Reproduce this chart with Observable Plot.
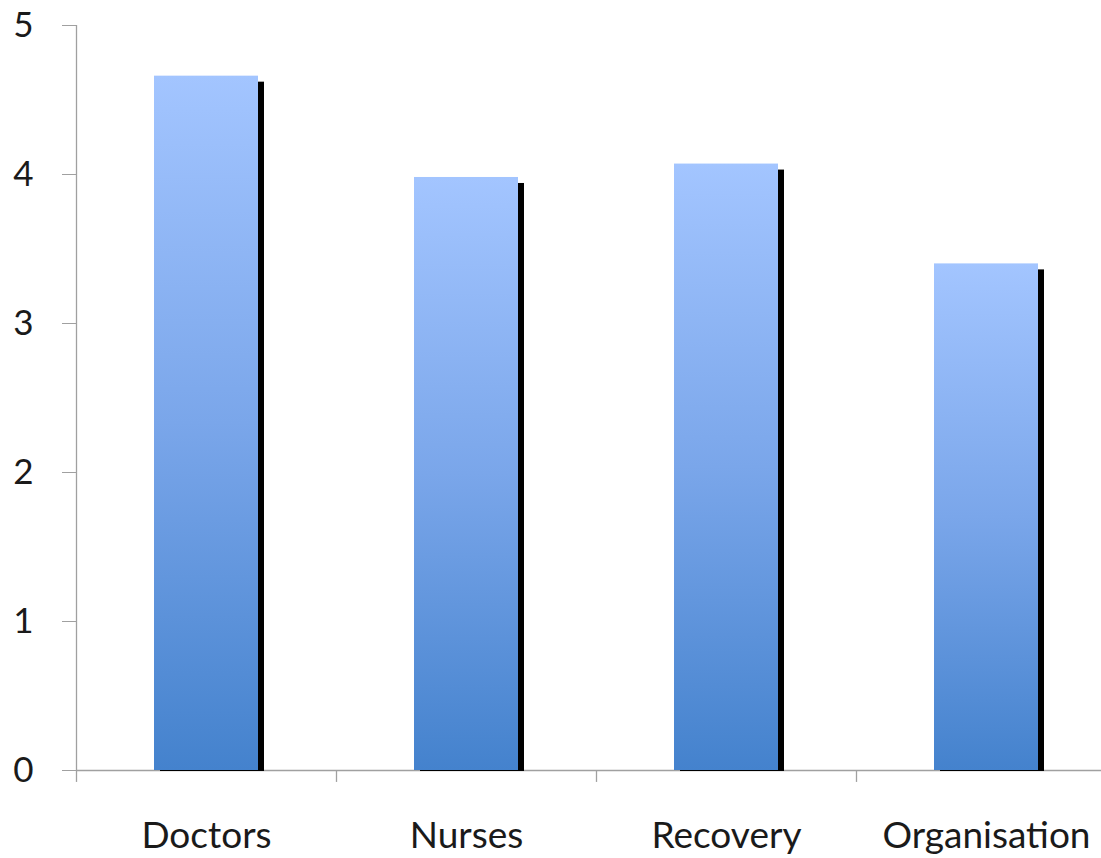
<!DOCTYPE html>
<html>
<head>
<meta charset="utf-8">
<script src="https://cdn.jsdelivr.net/npm/d3@7"></script>
<script src="https://cdn.jsdelivr.net/npm/@observablehq/plot@0.6"></script>
<style>
  html, body { margin: 0; padding: 0; background: #fff; overflow: hidden; }
  #chart svg { display: block; overflow: visible; }
</style>
</head>
<body>
<div id="chart"></div>
<script>
// Average score per area
const categories = ["Doctors", "Nurses", "Recovery", "Organisation"];
const scores = [4.66, 3.98, 4.07, 3.40];
const yTicks = [0, 1, 2, 3, 4, 5];

const data = categories.map((c, i) => ({category: c, score: scores[i]}));

const width = 1101, height = 858;
const xRange = [76, 1116];
const step = (xRange[1] - xRange[0]) / categories.length;
const font = "Lato, 'Open Sans', sans-serif";

const plot = Plot.plot({
  width, height,
  marginTop: 25, marginBottom: 88, marginLeft: 76, marginRight: 0,
  style: {fontFamily: font, fontSize: "35px", color: "#1a1a1a", background: "white"},
  x: {domain: categories, range: xRange, paddingInner: 0.6, paddingOuter: 0.3, label: null},
  y: {domain: [0, 5], label: null},
  marks: [
    // category boundary ticks below the baseline, and the value axis line
    Plot.ruleX(categories, {x: d => d, dx: -step / 2, y1: 0, y2: -0.08, stroke: "#a0a0a0", strokeWidth: 1.3}),
    Plot.ruleX([categories[0]], {x: d => d, dx: -step / 2, y1: 0, y2: 5, stroke: "#a0a0a0", strokeWidth: 1.3}),
    Plot.ruleY([0], {stroke: "#a0a0a0", strokeWidth: 1.3}),
    // drop shadow behind each bar
    Plot.barY(data, {x: "category", y: "score", fill: "black", dx: 6, dy: 1, insetTop: 5, className: "shadow"}),
    // gradient bars
    Plot.barY(data, {x: "category", y: "score", fill: "url(#barGradient)"}),
    Plot.axisY({ticks: yTicks, tickSize: 14, tickPadding: 29, stroke: "#a0a0a0", tickFormat: d3.format("d"), fontSize: 35}),
    Plot.axisX({tickSize: 0, tickPadding: 51, fontSize: 37})
  ]
});

// vertical gradient, light at the top of each bar, deeper blue at the base
const defs = d3.select(plot).insert("defs", ":first-child");
const grad = defs.append("linearGradient").attr("id", "barGradient")
  .attr("x1", 0).attr("y1", 0).attr("x2", 0).attr("y2", 1);
grad.append("stop").attr("offset", "0%").attr("stop-color", "#a3c5ff");
grad.append("stop").attr("offset", "50%").attr("stop-color", "#7aa6ea");
grad.append("stop").attr("offset", "100%").attr("stop-color", "#4482cd");
defs.append("filter").attr("id", "soft").append("feGaussianBlur").attr("stdDeviation", 0.6);
d3.select(plot).selectAll(".shadow rect").attr("filter", "url(#soft)");

document.getElementById("chart").appendChild(plot);
</script>
</body>
</html>
